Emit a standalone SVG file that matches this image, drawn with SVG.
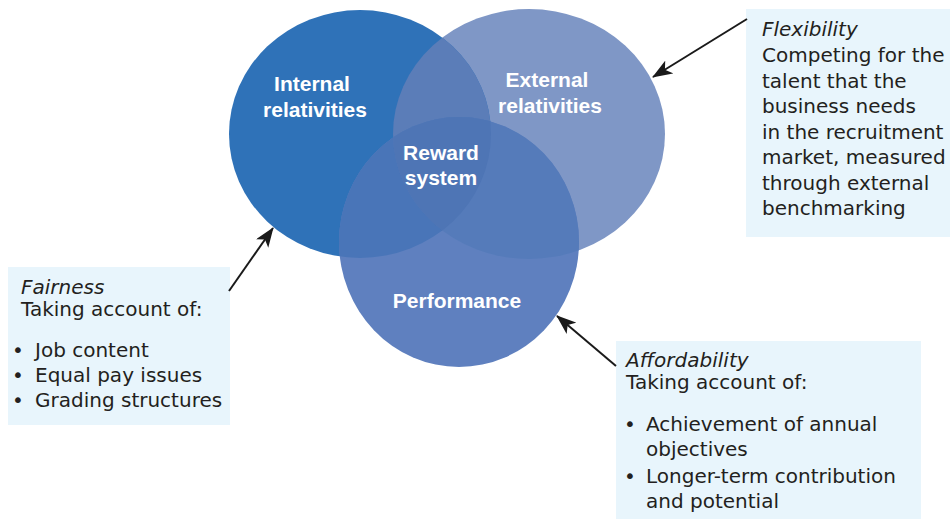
<svg xmlns="http://www.w3.org/2000/svg" width="950" height="519" viewBox="0 0 950 519">
<style>
.lbl{font-family:"Liberation Sans",Arial,sans-serif;font-weight:bold;font-size:21px;fill:#ffffff;text-anchor:middle}
.body{font-family:"DejaVu Sans",Verdana,sans-serif;font-size:20px;fill:#231f20}
.ttl{font-style:italic}
.box{fill:#e8f5fc}
.arr{stroke:#1a1a1a;stroke-width:2;fill:none;marker-end:url(#ah)}
</style>
<defs>
<marker id="ah" viewBox="0 0 20 15" refX="19" refY="7.5" markerWidth="20" markerHeight="15" markerUnits="userSpaceOnUse" orient="auto">
<path d="M0,0 L20,7.5 L0,15 L5,7.5 Z" fill="#1a1a1a"/>
</marker>
<clipPath id="cInt"><ellipse cx="360" cy="134" rx="131" ry="124"/></clipPath>
<clipPath id="cExt"><ellipse cx="529" cy="134" rx="136" ry="125"/></clipPath>
</defs>
<rect width="950" height="519" fill="#ffffff"/>
<g id="node-external"><ellipse cx="529" cy="134" rx="136" ry="125" fill="#7f97c6"/></g>
<g id="node-internal"><ellipse cx="360" cy="134" rx="131" ry="124" fill="#2f72b8"/></g>
<g id="node-performance"><ellipse cx="459" cy="242" rx="120" ry="125" fill="#5f80bf"/></g>
<g id="overlaps">
<ellipse cx="529" cy="134" rx="136" ry="125" fill="#5b7db8" clip-path="url(#cInt)"/>
<ellipse cx="459" cy="242" rx="120" ry="125" fill="#4975b8" clip-path="url(#cInt)"/>
<ellipse cx="459" cy="242" rx="120" ry="125" fill="#557bba" clip-path="url(#cExt)"/>
<g clip-path="url(#cInt)"><ellipse cx="459" cy="242" rx="120" ry="125" fill="#4e75b5" clip-path="url(#cExt)"/></g>
</g>
<g id="labels">
<text class="lbl" x="312" y="91">Internal</text>
<text class="lbl" x="315" y="117">relativities</text>
<text class="lbl" x="547" y="87">External</text>
<text class="lbl" x="550" y="113">relativities</text>
<text class="lbl" x="441" y="160">Reward</text>
<text class="lbl" x="441" y="185">system</text>
<text class="lbl" x="457" y="308">Performance</text>
</g>
<g id="node-fairness">
<rect class="box" x="8" y="267" width="222" height="158"/>
<text class="body ttl" x="21" y="294">Fairness</text>
<text class="body" x="21" y="316">Taking account of:</text>
<text class="body"><tspan x="12" y="357">•</tspan><tspan x="35" y="357">Job content</tspan></text>
<text class="body"><tspan x="12" y="382">•</tspan><tspan x="35" y="382">Equal pay issues</tspan></text>
<text class="body"><tspan x="12" y="407">•</tspan><tspan x="35" y="407">Grading structures</tspan></text>
</g>
<g id="node-flexibility">
<rect class="box" x="746" y="9" width="204" height="228"/>
<text class="body ttl" x="762" y="36">Flexibility</text>
<text class="body" x="762" y="62">Competing for the</text>
<text class="body" x="762" y="88">talent that the</text>
<text class="body" x="762" y="113">business needs</text>
<text class="body" x="762" y="139">in the recruitment</text>
<text class="body" x="762" y="164">market, measured</text>
<text class="body" x="762" y="190">through external</text>
<text class="body" x="762" y="215">benchmarking</text>
</g>
<g id="node-affordability">
<rect class="box" x="616" y="341" width="305" height="178"/>
<text class="body ttl" x="626" y="367">Affordability</text>
<text class="body" x="626" y="389">Taking account of:</text>
<text class="body"><tspan x="624" y="431">•</tspan><tspan x="646" y="431">Achievement of annual</tspan></text>
<text class="body" x="646" y="456">objectives</text>
<text class="body"><tspan x="624" y="483">•</tspan><tspan x="646" y="483">Longer-term contribution</tspan></text>
<text class="body" x="646" y="508">and potential</text>
</g>
<g id="connectors">
<line class="arr" x1="229" y1="291" x2="273" y2="228"/>
<line class="arr" x1="747" y1="19" x2="653" y2="77"/>
<line class="arr" x1="616" y1="366" x2="557" y2="316"/>
</g>
</svg>
